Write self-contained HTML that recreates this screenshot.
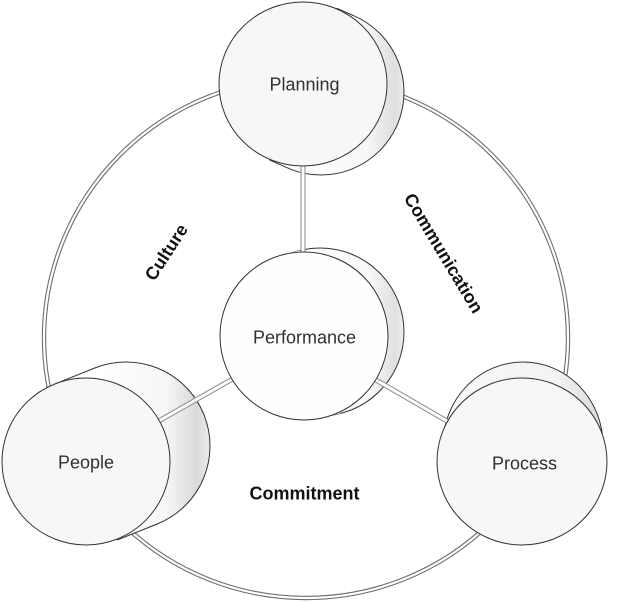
<!DOCTYPE html>
<html>
<head>
<meta charset="utf-8">
<style>
  html,body{margin:0;padding:0;background:#fff;}
  svg{display:block;}
  text{font-family:"Liberation Sans", Arial, sans-serif;}
</style>
</head>
<body>
<svg width="617" height="603" viewBox="0 0 617 603" xmlns="http://www.w3.org/2000/svg">
  <defs>
    <linearGradient id="gPlan" gradientUnits="userSpaceOnUse" x1="290" y1="0" x2="406" y2="0">
      <stop offset="0" stop-color="#ffffff"/>
      <stop offset="0.65" stop-color="#f8f8f8"/>
      <stop offset="0.9" stop-color="#dedede"/>
      <stop offset="1" stop-color="#efefef"/>
    </linearGradient>
    <linearGradient id="gPerf" gradientUnits="userSpaceOnUse" x1="300" y1="0" x2="405" y2="0">
      <stop offset="0" stop-color="#ffffff"/>
      <stop offset="0.65" stop-color="#f9f9f9"/>
      <stop offset="0.9" stop-color="#e0e0e0"/>
      <stop offset="1" stop-color="#f0f0f0"/>
    </linearGradient>
    <linearGradient id="gPeop" gradientUnits="userSpaceOnUse" x1="100" y1="0" x2="211" y2="0">
      <stop offset="0" stop-color="#ffffff"/>
      <stop offset="0.6" stop-color="#f6f6f6"/>
      <stop offset="0.87" stop-color="#d9d9d9"/>
      <stop offset="1" stop-color="#ececec"/>
    </linearGradient>
    <linearGradient id="gProc" gradientUnits="userSpaceOnUse" x1="445" y1="0" x2="606" y2="0">
      <stop offset="0" stop-color="#f8f8f8"/>
      <stop offset="0.7" stop-color="#f3f3f3"/>
      <stop offset="0.93" stop-color="#dedede"/>
      <stop offset="1" stop-color="#ececec"/>
    </linearGradient>
  </defs>

  <!-- outer ring (double line) -->
  <ellipse cx="306" cy="338" rx="262" ry="260" fill="none" stroke="#6e6e6e" stroke-width="4.4"/>
  <ellipse cx="306" cy="338" rx="262" ry="260" fill="none" stroke="#ffffff" stroke-width="2.2"/>

  <!-- Planning back + side -->
  <circle cx="321" cy="92" r="83" fill="url(#gPlan)" stroke="#333" stroke-width="1"/>
  <polygon points="336.7,8.2 354.7,16.2 287.3,167.8 269.3,159.8" fill="url(#gPlan)"/>
  <line x1="336.7" y1="8.2" x2="354.7" y2="16.2" stroke="#333" stroke-width="1"/>
  <line x1="269.3" y1="159.8" x2="287.3" y2="167.8" stroke="#333" stroke-width="1"/>

  <!-- Performance back + side -->
  <circle cx="320" cy="332" r="84" fill="url(#gPerf)" stroke="#333" stroke-width="1"/>
  <polygon points="283.6,254.5 299.6,250.5 340.4,413.5 324.4,417.5" fill="url(#gPerf)"/>

  <!-- People back + side -->
  <circle cx="126" cy="446" r="84" fill="url(#gPeop)" stroke="#333" stroke-width="1"/>
  <polygon points="54.8,384 94.8,368 157.2,524 117.2,540" fill="url(#gPeop)"/>
  <line x1="54.8" y1="384" x2="94.8" y2="368" stroke="#333" stroke-width="1"/>
  <line x1="117.2" y1="540" x2="157.2" y2="524" stroke="#333" stroke-width="1"/>

  <!-- Process back + side -->
  <ellipse cx="523" cy="445" rx="80" ry="83" fill="url(#gProc)" stroke="#333" stroke-width="1"/>
  <polygon points="443,445 603,445 607,462 437,462" fill="url(#gProc)"/>

  <!-- connectors (double lines) -->
  <g fill="none">
    <line x1="303" y1="160" x2="303" y2="256" stroke="#8a8a8a" stroke-width="5"/>
    <line x1="303" y1="160" x2="303" y2="256" stroke="#ffffff" stroke-width="3"/>
    <line x1="150" y1="426" x2="236" y2="377" stroke="#8a8a8a" stroke-width="5"/>
    <line x1="150" y1="426" x2="236" y2="377" stroke="#ffffff" stroke-width="3"/>
    <line x1="376" y1="380" x2="452" y2="424" stroke="#8a8a8a" stroke-width="5"/>
    <line x1="376" y1="380" x2="452" y2="424" stroke="#ffffff" stroke-width="3"/>
  </g>

  <!-- front faces -->
  <ellipse cx="303" cy="84" rx="84" ry="82" fill="#f7f7f7" stroke="#333" stroke-width="1"/>
  <circle cx="304" cy="336" r="84" fill="#fefefe" stroke="#333" stroke-width="1"/>
  <ellipse cx="86" cy="461.5" rx="84" ry="83.5" fill="#f7f7f7" stroke="#333" stroke-width="1"/>
  <ellipse cx="522" cy="461.5" rx="85" ry="83.5" fill="#f7f7f7" stroke="#333" stroke-width="1"/>

  <!-- node labels -->
  <g font-size="18" fill="#2e3038" text-anchor="middle">
    <text x="304.5" y="90.5">Planning</text>
    <text x="304.5" y="343.5">Performance</text>
    <text x="86" y="468.5">People</text>
    <text x="524.5" y="469.5">Process</text>
  </g>

  <!-- ring labels -->
  <g font-size="18" font-weight="bold" fill="#111" text-anchor="middle">
    <text x="304.5" y="499.5">Commitment</text>
    <text transform="translate(166,252) rotate(-57)" x="0" y="6.5">Culture</text>
    <text transform="translate(444,253) rotate(59)" x="0" y="6.5">Communication</text>
  </g>
</svg>
</body>
</html>
